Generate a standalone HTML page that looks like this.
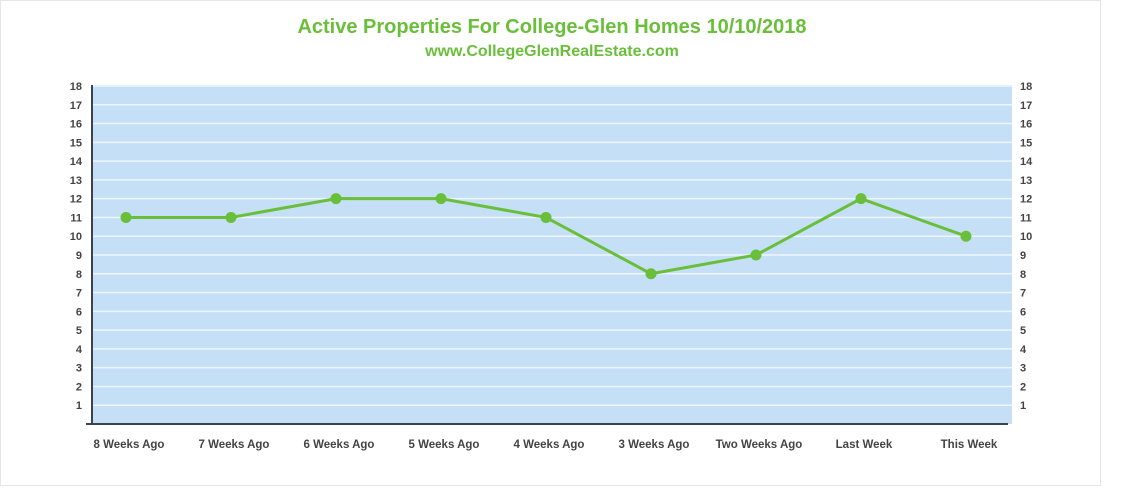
<!DOCTYPE html>
<html><head><meta charset="utf-8"><style>
body{margin:0;background:#fff;width:1133px;height:490px;overflow:hidden;font-family:"Liberation Sans",sans-serif}
</style></head><body>
<svg width="1133" height="490">
<rect x="0.5" y="0.5" width="1100" height="485" fill="#fff" stroke="#e6e6e6"/>
<text x="552" y="33" text-anchor="middle" font-size="20" font-weight="bold" fill="#6abf3a">Active Properties For College-Glen Homes 10/10/2018</text>
<text x="552" y="56" text-anchor="middle" font-size="16" font-weight="bold" fill="#6abf3a">www.CollegeGlenRealEstate.com</text>
<g id="plot"></g>
</svg>
<script>
const categories=["8 Weeks Ago","7 Weeks Ago","6 Weeks Ago","5 Weeks Ago","4 Weeks Ago","3 Weeks Ago","Two Weeks Ago","Last Week","This Week"];
const values=[11,11,12,12,11,8,9,12,10];
const yTicks=[1,2,3,4,5,6,7,8,9,10,11,12,13,14,15,16,17,18];
const NS="http://www.w3.org/2000/svg";
const g=document.getElementById('plot');
const L=92,R=1012,T=86,B=424,yMax=18;
const y=v=>B-(v/yMax)*(B-T);
const x=i=>126+i*(966-126)/(categories.length-1);
function mk(t,a){const e=document.createElementNS(NS,t);for(const k in a)e.setAttribute(k,a[k]);g.appendChild(e);return e;}
let bg=mk('rect',{x:L,y:T-1,width:R-L,height:B-T+1,fill:'#c5dff7'});


yTicks.forEach(v=>{
 let ln=mk('line',{x1:L,x2:R,y1:y(v),y2:y(v),stroke:'#eef6fd','stroke-width':1.5});
 
 
 let t1=mk('text',{x:82,y:y(v)+4,'text-anchor':'end','font-size':11,'font-weight':'bold',fill:'#444'});t1.textContent=v;
 
 
 let t2=mk('text',{x:1020,y:y(v)+4,'font-size':11,'font-weight':'bold',fill:'#444'});t2.textContent=v;
 
 
});
let ax=mk('path',{d:`M${L},${T-1} V${B} H1008`,fill:'none',stroke:'#3a4450','stroke-width':2});


let lt=mk('line',{x1:86,x2:L,y1:B,y2:B,stroke:'#3a4450','stroke-width':2});


categories.forEach((c,i)=>{
 let t=mk('text',{x:x(i)+3,y:448,'text-anchor':'middle','font-size':11.5,'font-weight':'bold',fill:'#444'});t.textContent=c;
 
 
});
let line=mk('polyline',{points:values.map((v,i)=>x(i)+','+y(v)).join(' '),fill:'none',stroke:'#6abf3a','stroke-width':3});


values.forEach((v,i)=>{
 let c=mk('circle',{cx:x(i),cy:y(v),r:5.5,fill:'#6abf3a'});
 
 
});
</script>
</body></html>
